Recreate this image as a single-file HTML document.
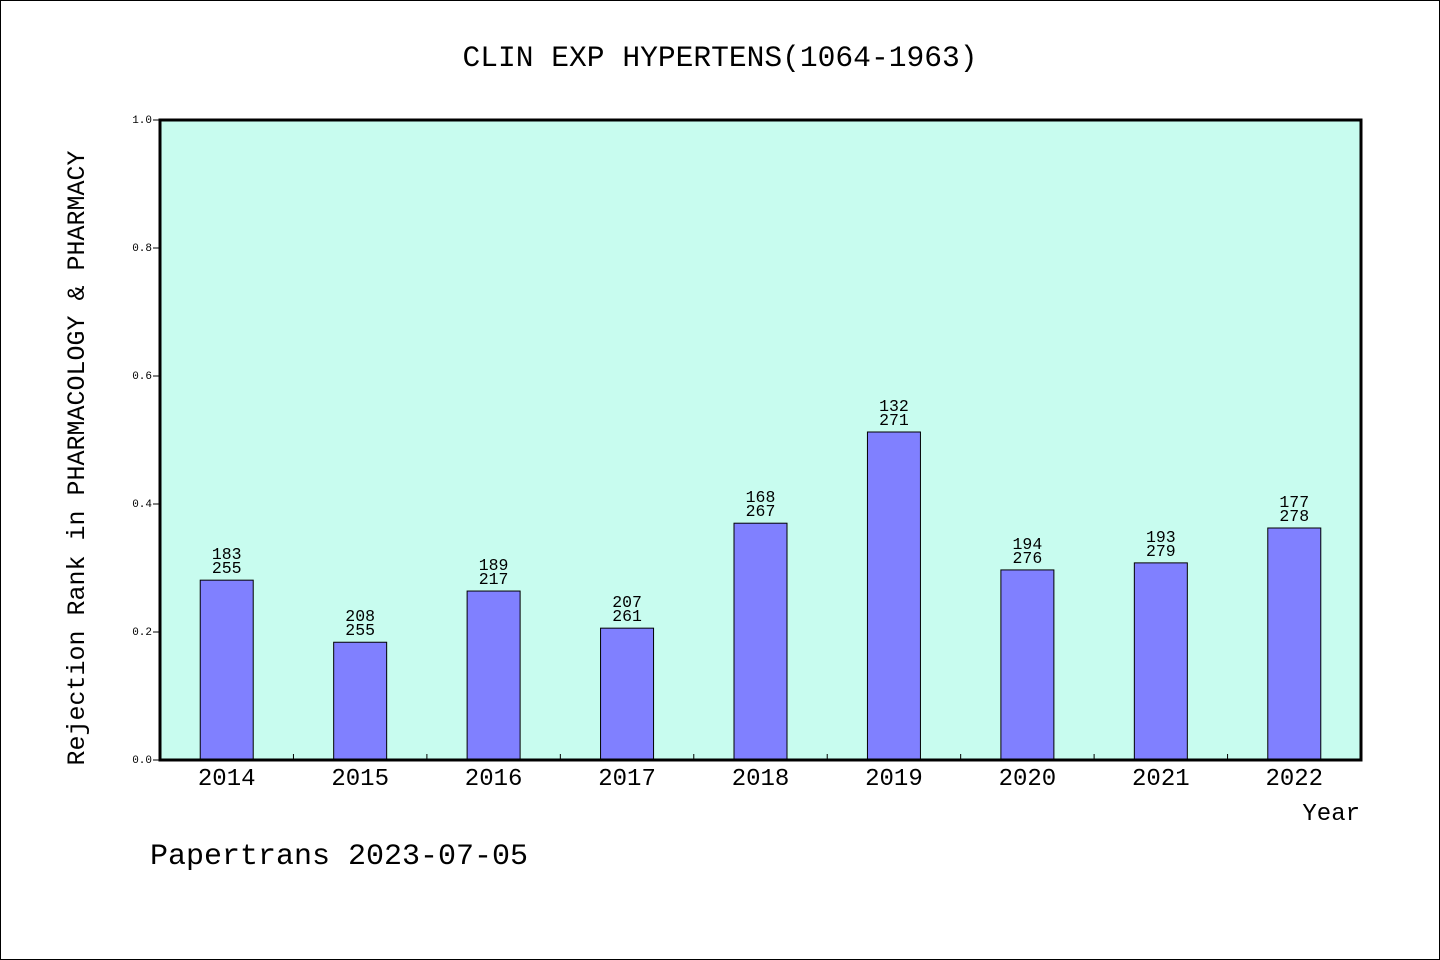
<!DOCTYPE html>
<html><head><meta charset="utf-8"><style>
body{margin:0;background:#fff}
svg{display:block}
text{font-family:"Liberation Mono","Noto Sans CJK SC",monospace;fill:#000}
</style></head><body>
<svg id="chart" width="1440" height="960">
<rect x="0.5" y="0.5" width="1439" height="959" fill="#fff" stroke="#000"/>
<text x="720" y="66" text-anchor="middle" font-size="29.6">CLIN EXP HYPERTENS(1064-1963)</text>
<rect x="160" y="120" width="1201" height="640" fill="#c8fcef"/>
<g id="marks"></g>
<rect x="160" y="120" width="1201" height="640" fill="none" stroke="#000" stroke-width="3"/>
<text transform="translate(84,458) rotate(-90)" text-anchor="middle" font-size="25">Rejection Rank in PHARMACOLOGY &amp; PHARMACY</text>
<text x="1360" y="820" text-anchor="end" font-size="24">Year</text>
<text x="150" y="864" font-size="30">Papertrans 2023-07-05</text>
</svg>
<script>
const years=["2014","2015","2016","2017","2018","2019","2020","2021","2022"];
const values=[0.281,0.184,0.264,0.206,0.370,0.5125,0.297,0.308,0.3625];
const ranks=["183","208","189","207","168","132","194","193","177"];
const totals=["255","255","217","261","267","271","276","279","278"];
const yTicks=[0,0.2,0.4,0.6,0.8,1.0];
const yTickLabels=["0.0","0.2","0.4","0.6","0.8","1.0"];
const X0=160,W=1201,Y0=760,H=640;
const slot=W/years.length;
const xc=i=>X0+slot*(i+0.5);
const y=v=>Y0-v*H;
const g=document.getElementById('marks');
const NS='http://www.w3.org/2000/svg';
function mk(t,a){const e=document.createElementNS(NS,t);for(const k in a)e.setAttribute(k,a[k]);g.appendChild(e);return e;}
yTicks.forEach((v,i)=>{
 const l=mk('line',{x1:153,x2:160,y1:y(v),y2:y(v),stroke:'#000'});
 
 
 const t=mk('text',{x:152,y:y(v)+3,'text-anchor':'end','font-size':11});
 t.textContent=yTickLabels[i];
 
 
});
years.forEach((yr,i)=>{
 if(i>0){const l=mk('line',{x1:X0+slot*i,x2:X0+slot*i,y1:754,y2:760,stroke:'#000'});
 
 }
 const b=mk('rect',{x:xc(i)-26.5,y:y(values[i]),width:53,height:values[i]*H,fill:'#8080ff',stroke:'#000'});
 
 
 const t1=mk('text',{x:xc(i),y:y(values[i])-21,'text-anchor':'middle','font-size':16.5});
 t1.textContent=ranks[i];
 
 
 const t2=mk('text',{x:xc(i),y:y(values[i])-7,'text-anchor':'middle','font-size':16.5});
 t2.textContent=totals[i];
 
 
 const xl=mk('text',{x:xc(i),y:785,'text-anchor':'middle','font-size':24});
 xl.textContent=yr;
 
 
});
</script>
</body></html>
